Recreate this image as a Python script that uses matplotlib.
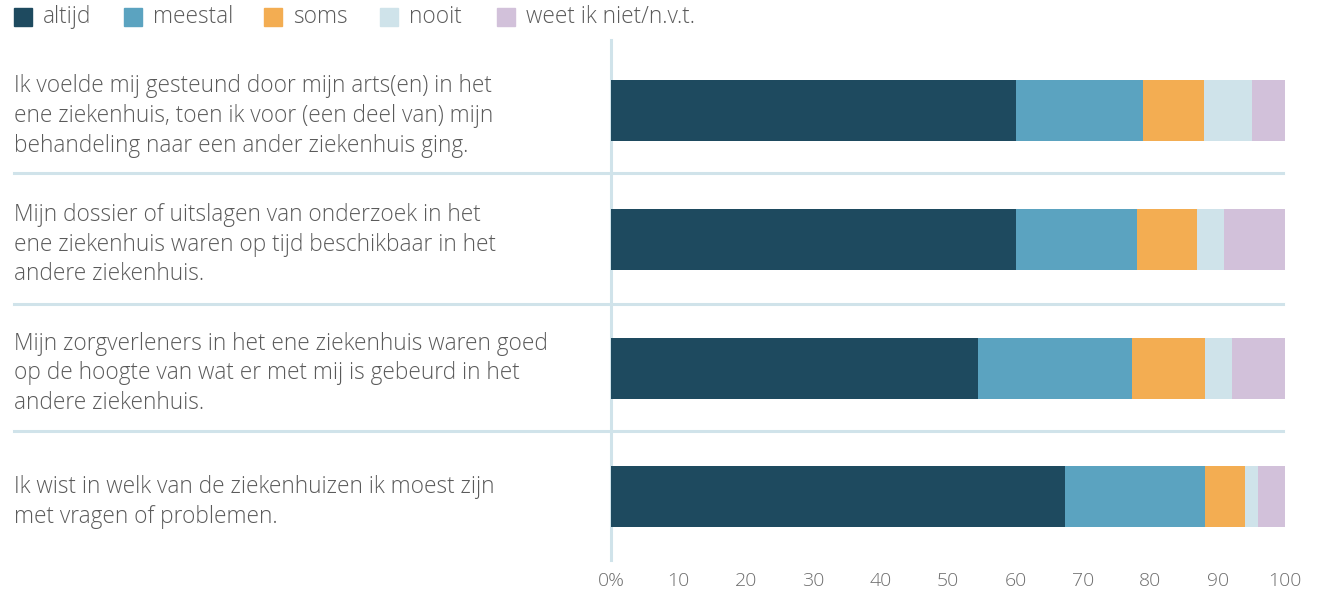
import numpy as np
import matplotlib
matplotlib.use("Agg")
import matplotlib.pyplot as plt
from matplotlib.patches import Rectangle
from matplotlib.transforms import blended_transform_factory

# Gegevens (percentages per stelling)
categorieen = ["altijd", "meestal", "soms", "nooit", "weet ik niet/n.v.t."]
kleuren = ["#1e4a5f", "#5ba3c0", "#f3ad52", "#cfe3ea", "#d2c1da"]

stellingen = [
    "Ik voelde mij gesteund door mijn arts(en) in het\nene ziekenhuis, toen ik voor (een deel van) mijn\nbehandeling naar een ander ziekenhuis ging.",
    "Mijn dossier of uitslagen van onderzoek in het\nene ziekenhuis waren op tijd beschikbaar in het\nandere ziekenhuis.",
    "Mijn zorgverleners in het ene ziekenhuis waren goed\nop de hoogte van wat er met mij is gebeurd in het\nandere ziekenhuis.",
    "Ik wist in welk van de ziekenhuizen ik moest zijn\nmet vragen of problemen.",
]

altijd = [60.1, 60.1, 54.5, 67.4]
meestal = [18.8, 17.9, 22.8, 20.7]
soms = [9.1, 8.9, 10.8, 6.0]
nooit = [7.1, 4.1, 4.0, 1.9]
weet_niet = [4.9, 9.0, 7.9, 4.0]

ticks = [0, 10, 20, 30, 40, 50, 60, 70, 80, 90, 100]
tick_labels = ["0%", "10", "20", "30", "40", "50", "60", "70", "80", "90", "100"]

tekstkleur = "#5a5a5a"
lijnkleur = "#d0e3ea"
plt.rcParams['font.family'] = ['Open Sans', 'DejaVu Sans']
plt.rcParams['font.weight'] = 'light'

W, H = 1317, 594
fig = plt.figure(figsize=(W / 100, H / 100), dpi=100)
ax = fig.add_axes([611 / W, 1 - 560 / H, 674 / W, 520 / H])

reeksen = [altijd, meestal, soms, nooit, weet_niet]
y = np.arange(len(stellingen))
links = np.zeros(len(stellingen))
for waarden, kleur, naam in zip(reeksen, kleuren, categorieen):
    ax.barh(y, waarden, left=links, height=0.474, color=kleur, label=naam, zorder=3)
    links = links + np.array(waarden)

ax.set_xlim(0, 100)
ax.set_ylim(3.49, -0.55)

# scheidingslijnen tussen de stellingen
for yy in [0.48, 1.5, 2.49]:
    ax.axhline(yy, xmin=(14 - 611) / 674, xmax=(1283 - 611) / 674,
               color=lijnkleur, linewidth=2.2, clip_on=False, zorder=1)

for kant in ["top", "right", "bottom"]:
    ax.spines[kant].set_visible(False)
ax.spines["left"].set_color(lijnkleur)
ax.spines["left"].set_linewidth(2.2)
ax.set_yticks([])
ax.set_xticks(ticks)
ax.set_xticklabels(tick_labels, fontsize=14, color="#6e6e6e")
ax.tick_params(axis="x", length=0, pad=9)

# labels van de stellingen
trans = blended_transform_factory(fig.transFigure, ax.transData)
for i, tekst in enumerate(stellingen):
    ax.text(14 / W, i + 0.04, tekst, transform=trans, ha="left", va="center",
            fontsize=16.3, color=tekstkleur, linespacing=1.32)

# legenda
leg_x = [14, 124, 264, 380, 497]
for x0, kleur, naam in zip(leg_x, kleuren, categorieen):
    fig.patches.append(Rectangle((x0 / W, 1 - 26 / H), 18 / W, 18 / H,
                                 transform=fig.transFigure, color=kleur))
    fig.text((x0 + 29) / W, 1 - 17 / H, naam, ha="left", va="center",
             fontsize=16.3, color=tekstkleur)

fig.savefig("out.png", dpi=100)
